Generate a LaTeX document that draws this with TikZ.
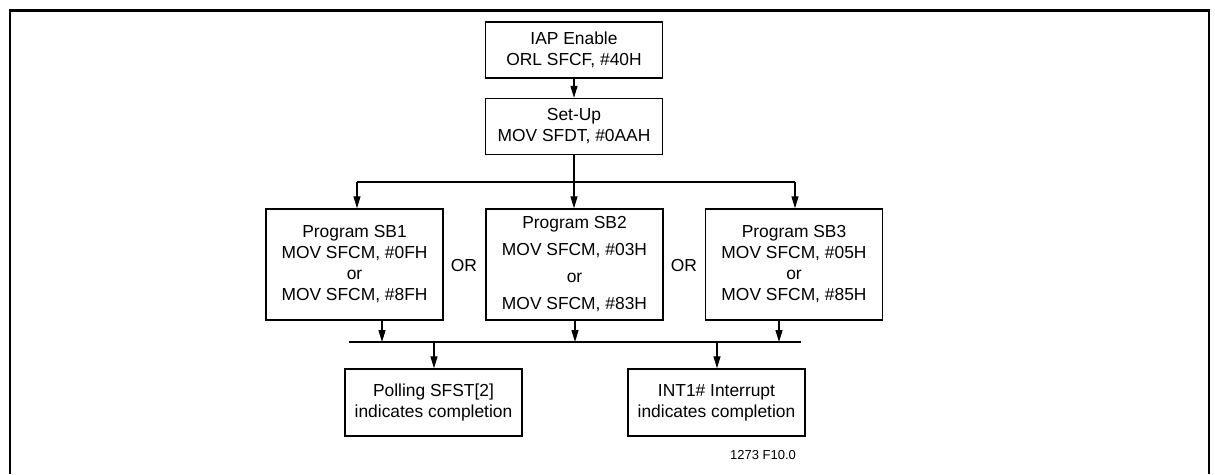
\documentclass[tikz,border=0pt]{standalone}
\usepackage{fontspec}
\setmainfont{Liberation Sans}
\usetikzlibrary{arrows.meta}
\tikzset{
  box/.style={draw, line width=1.4pt, minimum width=177pt, inner sep=0pt, align=center,
    font=\fontsize{17.4}{21}\selectfont},
  conn/.style={line width=1.3pt},
  arr/.style={conn, -{Triangle[width=7pt,length=12pt]}},
  orlabel/.style={font=\fontsize{17.4}{21}\selectfont, inner sep=0pt},
  figlabel/.style={font=\fontsize{13}{15}\selectfont, inner sep=0pt},
  frame/.style={line width=2.5pt}
}
\begin{document}
\begin{tikzpicture}[x=1pt,y=-1pt]
\useasboundingbox (0,0) rectangle (1215,474);
% frame
\draw[frame] (10,474) -- (10,10.5) -- (1209,10.5) -- (1209,474);

% nodes
\node[box, minimum height=56pt] (iap) at (574,50) {IAP Enable\\ORL SFCF, \#40H};
\node[box, minimum height=56pt] (setup) at (574,126.5) {Set-Up\\MOV SFDT, \#0AAH};
\node[box, minimum height=111pt] (sb1) at (354.5,264.5) {Program SB1\\MOV SFCM, \#0FH\\or\\MOV SFCM, \#8FH};
\node[box, minimum height=111pt] (sb2) at (574.5,264.5) {Program SB2\\[6pt]MOV SFCM, \#03H\\[6pt]or\\[6pt]MOV SFCM, \#83H};
\node[box, minimum height=111pt] (sb3) at (794,264.5) {Program SB3\\MOV SFCM, \#05H\\or\\MOV SFCM, \#85H};
\node[box, minimum height=67pt] (poll) at (433.5,402.5) {Polling SFST[2]\\indicates completion};
\node[box, minimum height=67pt] (intr) at (716.5,402.5) {INT1\# Interrupt\\indicates completion};

\node[orlabel] (or1) at (464,266) {OR};
\node[orlabel] (or2) at (684,266) {OR};
\node[figlabel] (fig) at (763,455) {1273 F10.0};

% branch coordinates
\coordinate (bc) at (574,182);
\coordinate (bl) at (357,182);
\coordinate (br) at (795,182);
\coordinate (barl) at (349,342);
\coordinate (barr) at (801,342);
\coordinate (j1) at (382,342);
\coordinate (j2) at (575,342);
\coordinate (j3) at (779,342);
\coordinate (k1) at (434,342);
\coordinate (k2) at (717,342);

% connectors
\draw[arr] (iap.south) -- (setup.north);
\draw[conn] (setup.south) -- (bc);
\draw[conn] (bl) -- (br);
\draw[arr] (bl) -- (bl |- sb1.north);
\draw[arr] (bc) -- (bc |- sb2.north);
\draw[arr] (br) -- (br |- sb3.north);

\draw[arr] (j1 |- sb1.south) -- (j1);
\draw[arr] (j2 |- sb2.south) -- (j2);
\draw[arr] (j3 |- sb3.south) -- (j3);
\draw[conn] (barl) -- (barr);

\draw[arr] (k1) -- (k1 |- poll.north);
\draw[arr] (k2) -- (k2 |- intr.north);
\end{tikzpicture}
\end{document}
